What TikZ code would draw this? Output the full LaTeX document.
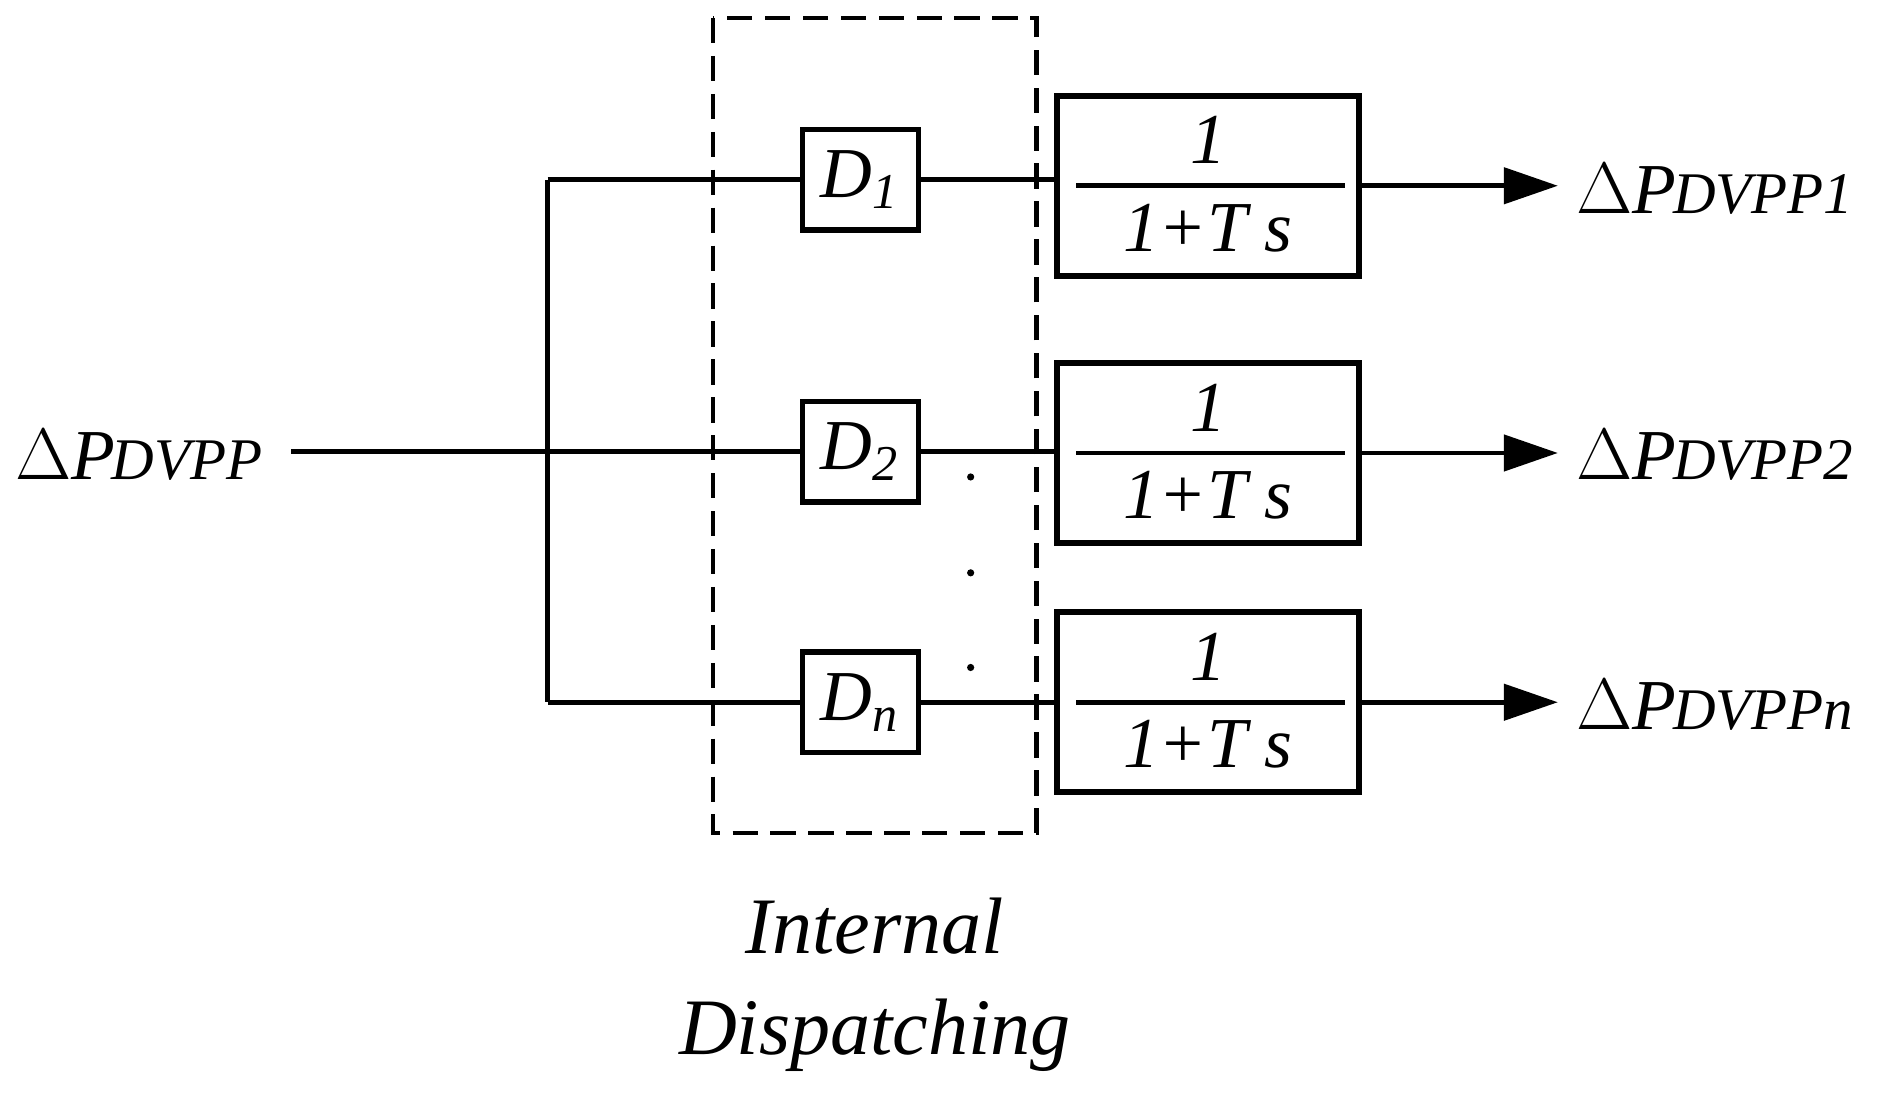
\documentclass[tikz,border=0pt]{standalone}
\usepackage{fontspec}
\setmainfont{Liberation Serif}
\usetikzlibrary{arrows.meta}
\begin{document}
\begin{tikzpicture}[x=0.01cm,y=-0.01cm,
  wire/.style={line width=1.1pt},
  dbox/.style={draw,line width=1.3pt,minimum width=0.97cm,minimum height=0.84cm,inner sep=0pt,font=\fontsize{17}{20}\selectfont},
  tf/.style={draw,line width=1.5pt,minimum width=2.52cm,minimum height=1.5cm,inner sep=0pt,font=\fontsize{17}{20}\selectfont},
  lbl/.style={anchor=west,inner sep=0pt,font=\fontsize{17}{20}\selectfont},
  arr/.style={wire,-{Triangle[length=0.45cm,width=0.3cm]}}]
\useasboundingbox (0,0) rectangle (1568,917);
\draw[dash pattern=on 6pt off 3pt,line width=1.1pt] (595,15) rectangle (865,695);
\node[dbox] (d1) at (718,150) {\textit{D\textsubscript{1}}};
\node[dbox] (d2) at (718,377) {\textit{D\textsubscript{2}}};
\node[dbox] (dn) at (718,586) {\textit{D\textsubscript{n}}};
\foreach \n/\y in {1/155,2/378,3/586}{
  \node[tf] (t\n) at (1008,\y) {};
  \draw[line width=1.1pt] (898,\y) -- (1122,\y);
  \node[font=\fontsize{17}{20}\selectfont\itshape] at (1008,\y-38) {1};
  \node[font=\fontsize{17}{20}\selectfont\itshape] at (1008,\y+35) {1+T s};
  \coordinate (o\n) at (1300,\y);
}
\node[lbl] (in) at (12,380) {$\Delta$\textit{P\hspace{-0.05em}{\fontsize{14}{16}\selectfont DVPP}}};
\node[lbl] (l1) at (1315,158) {$\Delta$\textit{P\hspace{-0.05em}{\fontsize{14}{16}\selectfont DVPP1}}};
\node[lbl] (l2) at (1315,380) {$\Delta$\textit{P\hspace{-0.05em}{\fontsize{14}{16}\selectfont DVPP2}}};
\node[lbl] (l3) at (1315,588) {$\Delta$\textit{P\hspace{-0.05em}{\fontsize{14}{16}\selectfont DVPPn}}};
\coordinate (b1) at (457,150);
\coordinate (bn) at (457,586);
\draw[wire] (243,377) -- (d2.west);
\draw[wire] (b1) -- (bn);
\draw[wire] (b1) -- (d1.west);
\draw[wire] (bn) -- (dn.west);
\draw[wire] (d1.east) -- (d1.east -| t1.west);
\draw[wire] (d2.east) -- (d2.east -| t2.west);
\draw[wire] (dn.east) -- (t3.west);
\draw[arr] (t1.east) -- (o1);
\draw[arr] (t2.east) -- (o2);
\draw[arr] (t3.east) -- (o3);
\foreach \y in {398,478,557} \fill (810,\y) circle (3);
\node[align=center,font=\fontsize{19}{24}\selectfont\itshape] (cap) at (730,822) {Internal\\Dispatching};
\end{tikzpicture}
\end{document}
